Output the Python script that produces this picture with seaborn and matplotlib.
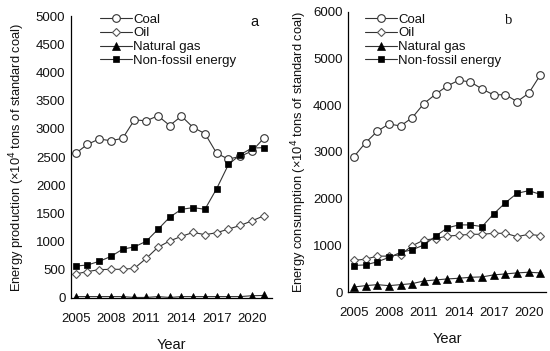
import matplotlib
matplotlib.use("Agg")
import matplotlib.pyplot as plt
import seaborn as sns
import pandas as pd

years = list(range(2005, 2022))
series_names = ["Coal", "Oil", "Natural gas", "Non-fossil energy"]

prod_coal = [2565, 2726, 2820, 2790, 2833, 3160, 3143, 3232, 3060, 3226, 3024, 2917, 2565, 2464, 2512, 2607, 2833]
prod_oil = [427, 468, 503, 509, 509, 527, 702, 900, 1012, 1094, 1164, 1123, 1158, 1223, 1287, 1369, 1457]
prod_gas = [25, 25, 25, 25, 25, 10, 10, 25, 10, 25, 25, 25, 25, 25, 25, 40, 45]
prod_nonfossil = [567, 585, 650, 737, 866, 907, 1006, 1217, 1433, 1574, 1603, 1574, 1942, 2369, 2542, 2660, 2667]

cons_coal = [2900, 3200, 3443, 3600, 3557, 3735, 4036, 4236, 4414, 4536, 4500, 4350, 4221, 4229, 4079, 4257, 4650]
cons_oil = [676, 705, 769, 769, 798, 992, 1114, 1143, 1200, 1215, 1237, 1237, 1258, 1258, 1186, 1237, 1208]
cons_gas = [108, 137, 158, 137, 158, 180, 237, 259, 280, 295, 316, 324, 367, 388, 410, 424, 410]
cons_nonfossil = [568, 582, 647, 741, 848, 906, 1007, 1194, 1373, 1438, 1438, 1402, 1675, 1913, 2114, 2171, 2092]

xticks = [2005, 2008, 2011, 2014, 2017, 2020]

sns.set_style("white")
plt.rcParams['font.family'] = ['Liberation Sans', 'DejaVu Sans']
plt.rcParams['text.color'] = '#111111'
plt.rcParams['axes.labelcolor'] = '#111111'
plt.rcParams['xtick.color'] = '#111111'
plt.rcParams['ytick.color'] = '#111111'

styles = {
    "Coal": dict(marker="o", mfc="white", mec="#333333", ms=5.5, mew=0.8),
    "Oil": dict(marker="D", mfc="white", mec="#555555", ms=4.3, mew=0.8),
    "Natural gas": dict(marker="^", mfc="black", mec="black", ms=5.3, mew=0.5),
    "Non-fossil energy": dict(marker="s", mfc="black", mec="black", ms=4.6, mew=0.5),
}

fig = plt.figure(figsize=(5.5, 3.51), dpi=100)
ax_a = fig.add_axes([0.129, 0.151, 0.3655, 0.803])
ax_b = fig.add_axes([0.633, 0.168, 0.360, 0.798])

panels = [
    (ax_a, [prod_coal, prod_oil, prod_gas, prod_nonfossil], (0, 5000), 500,
     "Energy production (\u00d710$^4$ tons of standard coal)", "a", (2004.6, 2021.7),
     (0.915, 0.979), "Liberation Sans", (0.145, 1.01), 6),
    (ax_b, [cons_coal, cons_oil, cons_gas, cons_nonfossil], (0, 6000), 1000,
     "Energy consumption (\u00d710$^4$ tons of standard coal)", "b", (2004.5, 2021.5),
     (0.81, 0.968), "Liberation Serif", (0.085, 0.995), 3),
]

for ax, data, ylim, ystep, ylabel, tag, xlim, tagpos, tagfont, legpos, ylpad in panels:
    for name, vals in zip(series_names, data):
        df = pd.DataFrame({"Year": years, "Value": vals})
        sns.lineplot(data=df, x="Year", y="Value", ax=ax, color="#333333",
                     linewidth=0.8, label=name, **styles[name])
    ax.set_ylim(*ylim)
    ax.set_xlim(*xlim)
    ax.set_yticks(list(range(ylim[0], ylim[1] + 1, ystep)))
    ax.set_xticks(xticks)
    ax.set_xticks(years, minor=True)
    ax.tick_params(axis="both", which="both", direction="in", labelsize=9.5,
                   color="black", width=0.8)
    ax.tick_params(axis="x", which="major", length=4, pad=11)
    ax.tick_params(axis="x", which="minor", length=4)
    ax.tick_params(axis="y", length=4, pad=4)
    for s in ["top", "right"]:
        ax.spines[s].set_visible(False)
    for s in ["left", "bottom"]:
        ax.spines[s].set_color("black")
        ax.spines[s].set_linewidth(0.9)
    ax.set_xlabel("Year", fontsize=10.5, labelpad=9)
    ax.set_ylabel(ylabel, fontsize=9.3, labelpad=ylpad)
    ax.text(tagpos[0], tagpos[1], tag, transform=ax.transAxes, fontsize=10.5,
            ha="center", va="center", family=tagfont)
    ax.legend(loc="upper left", bbox_to_anchor=legpos, frameon=False,
              fontsize=9.5, handlelength=2.4, handletextpad=0.1,
              labelspacing=0.12, borderaxespad=0, borderpad=0)

fig.savefig("out.png", dpi=100)
